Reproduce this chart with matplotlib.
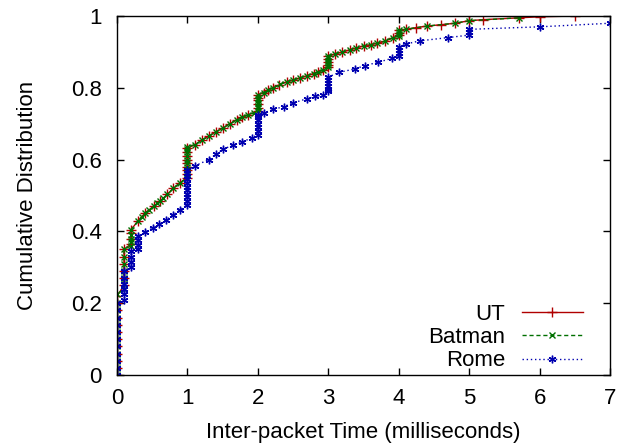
import matplotlib
matplotlib.use("Agg")
import matplotlib.pyplot as plt

# UT
ut_x = [0, 0, 0, 0, 0, 0, 0, 0, 0, 0, 0, 0,
        0.1, 0.1, 0.1, 0.1, 0.1, 0.1,
        0.2, 0.2, 0.2, 0.2,
        0.3, 0.4, 0.52, 0.61, 0.71, 0.8, 0.89,
        1, 1, 1, 1, 1, 1, 1, 1, 1,
        1.11, 1.2, 1.3, 1.4, 1.51, 1.6, 1.7, 1.78, 1.86,
        2, 2, 2, 2, 2, 2,
        2.08, 2.15, 2.22, 2.3, 2.41, 2.5, 2.6, 2.7, 2.79, 2.86, 2.93,
        3, 3, 3, 3, 3,
        3.1, 3.2, 3.31, 3.4, 3.5, 3.6, 3.69, 3.81, 3.92,
        4, 4, 4,
        4.1, 4.25, 4.4, 4.6, 4.8, 5.0, 5.2, 5.7, 6.0, 6.5]
ut_y = [0.0, 0.02, 0.04, 0.06, 0.08, 0.10, 0.12, 0.14, 0.16, 0.18, 0.20, 0.22,
        0.25, 0.27, 0.29, 0.31, 0.33, 0.35,
        0.365, 0.38, 0.395, 0.405,
        0.43, 0.452, 0.47, 0.484, 0.503, 0.52, 0.535,
        0.55, 0.56, 0.57, 0.58, 0.59, 0.60, 0.61, 0.62, 0.632,
        0.642, 0.654, 0.665, 0.677, 0.689, 0.70, 0.711, 0.718, 0.725,
        0.735, 0.745, 0.755, 0.765, 0.772, 0.78,
        0.787, 0.795, 0.80, 0.808, 0.817, 0.822, 0.828, 0.834, 0.84, 0.845, 0.85,
        0.857, 0.865, 0.873, 0.881, 0.888,
        0.895, 0.90, 0.906, 0.911, 0.917, 0.92, 0.924, 0.93, 0.94,
        0.946, 0.953, 0.96,
        0.963, 0.968, 0.972, 0.976, 0.98, 0.987, 0.99, 0.995, 0.998, 1.0]

# Batman
bat_x = [0, 0, 0, 0, 0, 0, 0, 0, 0, 0, 0, 0,
         0.1, 0.1, 0.1, 0.1, 0.1, 0.1, 0.1,
         0.2, 0.2, 0.2, 0.2, 0.2,
         0.3, 0.35, 0.4, 0.46, 0.52, 0.57, 0.61, 0.66, 0.71, 0.8, 0.89,
         1, 1, 1, 1, 1, 1, 1, 1, 1, 1,
         1.11, 1.2, 1.3, 1.4, 1.51, 1.6, 1.7, 1.78, 1.86, 1.94,
         2, 2, 2, 2, 2, 2, 2,
         2.08, 2.15, 2.22, 2.32, 2.41, 2.5, 2.6, 2.7, 2.79, 2.86, 2.93,
         3, 3, 3, 3, 3, 3,
         3.1, 3.2, 3.31, 3.4, 3.5, 3.6, 3.69, 3.81, 3.92,
         4, 4, 4, 4,
         4.1, 4.4, 4.8, 5.0, 5.7]
bat_y = [0.0, 0.02, 0.04, 0.06, 0.08, 0.10, 0.12, 0.14, 0.16, 0.18, 0.20, 0.225,
         0.24, 0.255, 0.27, 0.29, 0.31, 0.33, 0.35,
         0.36, 0.37, 0.38, 0.39, 0.405,
         0.43, 0.44, 0.452, 0.46, 0.47, 0.478, 0.484, 0.493, 0.503, 0.52, 0.535,
         0.55, 0.56, 0.57, 0.58, 0.59, 0.60, 0.61, 0.62, 0.63, 0.636,
         0.642, 0.654, 0.665, 0.677, 0.689, 0.70, 0.711, 0.718, 0.725, 0.73,
         0.735, 0.743, 0.75, 0.758, 0.765, 0.772, 0.78,
         0.787, 0.795, 0.80, 0.81, 0.817, 0.822, 0.828, 0.834, 0.84, 0.845, 0.85,
         0.857, 0.863, 0.87, 0.876, 0.883, 0.89,
         0.895, 0.90, 0.906, 0.911, 0.917, 0.92, 0.924, 0.93, 0.94,
         0.945, 0.95, 0.955, 0.96,
         0.963, 0.972, 0.98, 0.987, 0.995]

# Rome
rome_x = [0, 0, 0, 0, 0, 0, 0, 0, 0, 0, 0,
          0.1, 0.1, 0.1, 0.1, 0.1, 0.1,
          0.2, 0.2, 0.2, 0.2,
          0.3, 0.3, 0.3, 0.3,
          0.4, 0.51, 0.6, 0.7, 0.8, 0.9,
          1, 1, 1, 1, 1, 1, 1, 1, 1, 1, 1,
          1.11, 1.3, 1.41, 1.51, 1.65, 1.78, 1.91,
          2, 2, 2, 2, 2, 2, 2,
          2.08, 2.22, 2.37, 2.5, 2.7, 2.81, 2.92,
          3, 3, 3, 3, 3, 3,
          3.15, 3.38, 3.52, 3.7, 3.9,
          4, 4, 4, 4,
          4.1, 4.3, 4.7,
          5, 5, 5,
          6.0, 7.0]
rome_y = [0.0, 0.02, 0.04, 0.06, 0.08, 0.10, 0.12, 0.14, 0.16, 0.18, 0.20,
          0.21, 0.225, 0.24, 0.255, 0.27, 0.29,
          0.30, 0.315, 0.33, 0.345,
          0.35, 0.362, 0.375, 0.387,
          0.398, 0.41, 0.42, 0.433, 0.447, 0.461,
          0.475, 0.485, 0.495, 0.505, 0.515, 0.525, 0.535, 0.545, 0.555, 0.563, 0.57,
          0.583, 0.60, 0.615, 0.63, 0.64, 0.65, 0.66,
          0.67, 0.68, 0.69, 0.70, 0.71, 0.718, 0.725,
          0.73, 0.74, 0.748, 0.758, 0.77, 0.776, 0.78,
          0.79, 0.798, 0.806, 0.814, 0.822, 0.83,
          0.843, 0.853, 0.862, 0.871, 0.882,
          0.89, 0.898, 0.906, 0.914,
          0.922, 0.931, 0.94,
          0.947, 0.955, 0.963,
          0.97, 0.98]

plt.rcParams['font.family'] = ['Liberation Sans', 'DejaVu Sans']
fs = 16

fig = plt.figure(figsize=(6.27, 4.46), dpi=100)
ax = fig.add_axes([0.1866, 0.159, 0.7864, 0.805])

ax.plot(ut_x, ut_y, color='#b00000', lw=1, ls='-', marker='+', ms=6.5, mew=1, label='UT')
ax.plot(bat_x, bat_y, color='#007000', lw=1, ls=(0, (3, 2)), marker='x', ms=5, mew=1, label='Batman')
ax.plot(rome_x, rome_y, color='#0000b0', lw=1, ls=(0, (1, 2)), marker=(6, 2, 0), ms=5.5, mew=1, label='Rome')

ax.set_xlim(0, 7)
ax.set_ylim(0, 1)
ax.set_xticks([0, 1, 2, 3, 4, 5, 6, 7])
ax.set_yticks([0, 0.2, 0.4, 0.6, 0.8, 1])
ax.set_yticklabels(['0', '0.2', '0.4', '0.6', '0.8', '1'])
ax.tick_params(direction='in', top=True, right=True, length=5, width=1, labelsize=fs, pad=9)
ax.tick_params(axis='y', pad=11)
for s in ax.spines.values():
    s.set_linewidth(1)

ax.set_xlabel('Inter-packet Time (milliseconds)', fontsize=fs, labelpad=10)
ax.set_ylabel('Cumulative Distribution', fontsize=fs, labelpad=24)

ax.legend(loc='lower right', markerfirst=False, frameon=False, fontsize=fs,
          handlelength=2.75, labelspacing=0.1, borderaxespad=0, borderpad=0,
          handletextpad=0.75, bbox_to_anchor=(0.945, 0.01))

fig.savefig('out.png', dpi=100)
